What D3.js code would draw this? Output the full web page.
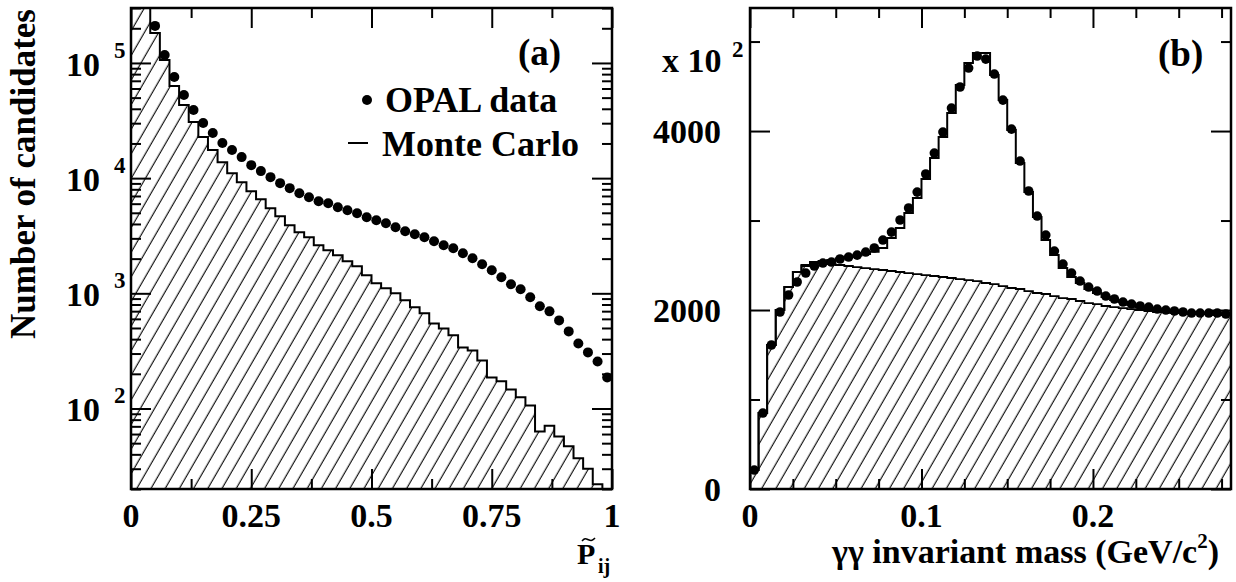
<!DOCTYPE html>
<html>
<head>
<meta charset="utf-8">
<script src="https://cdn.jsdelivr.net/npm/d3@7"></script>
<style>
body { margin: 0; background: #fff; }
text { font-family: "Liberation Serif", "Times New Roman", serif; font-weight: bold; fill: #000; }
</style>
</head>
<body>
<div id="container"></div>
<script>
// SVG Dimensions
var svg_width = 1236
var svg_height = 582

//
// Panel (a): P~ij distribution (log scale), bins of 0.02
var pijBinWidth = 0.02
var pijEdges = [0, 0.02, 0.04, 0.06, 0.08, 0.10, 0.12, 0.14, 0.16, 0.18,
    0.20, 0.22, 0.24, 0.26, 0.28, 0.30, 0.32, 0.34, 0.36, 0.38,
    0.40, 0.42, 0.44, 0.46, 0.48, 0.50, 0.52, 0.54, 0.56, 0.58,
    0.60, 0.62, 0.64, 0.66, 0.68, 0.70, 0.72, 0.74, 0.76, 0.78,
    0.80, 0.82, 0.84, 0.86, 0.88, 0.90, 0.92, 0.94, 0.96, 0.98]
var pijMC = [500000, 350000, 182300, 106200, 63100, 43150, 30690, 22750, 17520, 13770,
    11050, 9230, 7710, 6567, 5483, 4677, 3902, 3389, 3069, 2615,
    2365, 2139, 1897, 1717, 1435, 1222, 1105, 1000, 869, 756,
    670, 548, 496, 432, 339, 319, 261, 186, 172, 146,
    125, 106, 63, 71, 57, 47, 37, 30, 22, 0]
var pijCenters = [0.05, 0.07, 0.09, 0.11, 0.13, 0.15, 0.17, 0.19, 0.21, 0.23,
    0.25, 0.27, 0.29, 0.31, 0.33, 0.35, 0.37, 0.39, 0.41, 0.43,
    0.45, 0.47, 0.49, 0.51, 0.53, 0.55, 0.57, 0.59, 0.61, 0.63,
    0.65, 0.67, 0.69, 0.71, 0.73, 0.75, 0.77, 0.79, 0.81, 0.83,
    0.85, 0.87, 0.89, 0.91, 0.93, 0.95, 0.97, 0.99]
var pijData = [209800, 117400, 75560, 52690, 39020, 30090, 24620, 20150, 17520, 15220,
    12970, 11510, 10200, 9048, 8185, 7405, 6835, 6310, 6062, 5596,
    5268, 4963, 4581, 4313, 4062, 3749, 3461, 3258, 3069, 2833,
    2615, 2462, 2227, 2015, 1787, 1585, 1378, 1198, 1083, 923,
    771, 697, 582, 467, 367, 307, 256, 186]
var pijMajorX = [0, 0.25, 0.5, 0.75, 1]
var pijMinorX = [0.125, 0.375, 0.625, 0.875]
var pijLabelsX = ["0", "0.25", "0.5", "0.75", "1"]
var pijDecades = [2, 3, 4, 5]

//
// Panel (b): gamma-gamma invariant mass, bins of 0.005 GeV (values x 10^2)
var massBinWidth = 0.005
var massEdges = [0, 0.005, 0.010, 0.015, 0.020, 0.025, 0.030, 0.035, 0.040, 0.045,
    0.050, 0.055, 0.060, 0.065, 0.070, 0.075, 0.080, 0.085, 0.090, 0.095,
    0.100, 0.105, 0.110, 0.115, 0.120, 0.125, 0.130, 0.135, 0.140, 0.145,
    0.150, 0.155, 0.160, 0.165, 0.170, 0.175, 0.180, 0.185, 0.190, 0.195,
    0.200, 0.205, 0.210, 0.215, 0.220, 0.225, 0.230, 0.235, 0.240, 0.245,
    0.250, 0.255, 0.260, 0.265, 0.270, 0.275]
var massData = [212, 849, 1609, 1978, 2168, 2313, 2413, 2492, 2525, 2536,
    2570, 2592, 2614, 2648, 2693, 2782, 2871, 3006, 3140, 3318,
    3520, 3754, 3989, 4257, 4492, 4704, 4838, 4804, 4637, 4346,
    4022, 3665, 3330, 3050, 2838, 2659, 2514, 2413, 2324, 2257,
    2212, 2156, 2123, 2089, 2067, 2045, 2033, 2011, 2000, 1989,
    1978, 1966, 1966, 1966, 1966, 1955]
var massMC = [212, 849, 1609, 2000, 2257, 2425, 2503, 2536, 2547, 2559,
    2575, 2592, 2610, 2626, 2650, 2693, 2804, 2916, 3084, 3251,
    3464, 3698, 3933, 4201, 4515, 4760, 4871, 4871, 4626, 4346,
    4011, 3642, 3318, 3039, 2782, 2614, 2469, 2369, 2302, 2235,
    2190, 2145, 2112, 2089, 2056, 2033, 2022, 2000, 1989, 1978,
    1966, 1966, 1955, 1955, 1955, 1955]
var massBkg = [212, 849, 1609, 2000, 2257, 2425, 2492, 2525, 2525, 2514,
    2503, 2492, 2480, 2469, 2458, 2447, 2436, 2425, 2413, 2402,
    2391, 2380, 2369, 2358, 2346, 2335, 2324, 2302, 2290, 2268,
    2246, 2235, 2212, 2190, 2179, 2156, 2134, 2123, 2101, 2078,
    2067, 2045, 2033, 2022, 2011, 2000, 1989, 1978, 1978, 1966,
    1966, 1955, 1955, 1955, 1944, 1944]
var massMajorX = [0, 0.1, 0.2]
var massMinorX = [0.025, 0.05, 0.075, 0.125, 0.15, 0.175, 0.225, 0.25, 0.275]
var massLabelsX = ["0", "0.1", "0.2"]
var massMajorY = [0, 2000, 4000]
var massMinorY = [1000, 3000, 5000]

//
// Creating SVG
var svg = d3.select("#container")
    .append("svg")
    .attr("width", svg_width)
    .attr("height", svg_height)

var defs = svg.append("defs")
defs.append("pattern")
    .attr("id", "hatch")
    .attr("patternUnits", "userSpaceOnUse")
    .attr("width", 12.3)
    .attr("height", 12.3)
    .attr("patternTransform", "rotate(30)")
    .append("line")
    .attr("x1", 6).attr("y1", 0).attr("x2", 6).attr("y2", 12.3)
    .attr("stroke", "#000").attr("stroke-width", 1.1)

// Scales
var xA = d3.scaleLinear().domain([0, 1]).range([131, 612])
var yA = d3.scaleLog().domain([20, 3e5]).range([489, 8])
var xB = d3.scaleLinear().domain([0, 0.2805]).range([750, 1231])
var yB = d3.scaleLinear().domain([0, 5375]).range([489, 8])

function clipFor(id, x, y) {
    defs.append("clipPath").attr("id", id)
        .append("rect")
        .attr("x", x.range()[0]).attr("y", y.range()[1])
        .attr("width", x.range()[1] - x.range()[0])
        .attr("height", y.range()[0] - y.range()[1])
}
clipFor("clipA", xA, yA)
clipFor("clipB", xB, yB)

// ticks on all four sides, pointing inward
function drawTicks(x, y, xMajor, xMinor, yMajor, yMinor) {
    var x0 = x.range()[0], x1 = x.range()[1], y0 = y.range()[0], y1 = y.range()[1]
    var sets = [
        [d3.axisBottom(x), xMajor, 20, `translate(0,${y0})`],
        [d3.axisBottom(x), xMinor, 10, `translate(0,${y0})`],
        [d3.axisTop(x), xMajor, 20, `translate(0,${y1})`],
        [d3.axisTop(x), xMinor, 10, `translate(0,${y1})`],
        [d3.axisLeft(y), yMajor, 20, `translate(${x0},0)`],
        [d3.axisLeft(y), yMinor, 10, `translate(${x0},0)`],
        [d3.axisRight(y), yMajor, 20, `translate(${x1},0)`],
        [d3.axisRight(y), yMinor, 10, `translate(${x1},0)`]
    ]
    sets.forEach(function(s) {
        svg.append("g")
            .attr("transform", s[3])
            .call(s[0].tickValues(s[1]).tickSize(-s[2]).tickFormat(""))
            .call(g => g.select(".domain").remove())
            .selectAll("line")
            .attr("stroke", "#000")
            .attr("stroke-width", 2)
    })
    svg.append("rect")
        .attr("x", x0).attr("y", y1)
        .attr("width", x1 - x0).attr("height", y0 - y1)
        .attr("fill", "none").attr("stroke", "#000").attr("stroke-width", 2.5)
}

// ---------------- Panel (a) ----------------
var gA = svg.append("g").attr("clip-path", "url(#clipA)")
var histA = pijEdges.map((e, i) => [e, Math.max(pijMC[i], 20)])
histA.push([1, 20])

gA.append("path")
    .datum(histA)
    .attr("d", d3.area().curve(d3.curveStepAfter)
        .x(d => xA(d[0])).y0(yA(20)).y1(d => yA(d[1])))
    .attr("fill", "url(#hatch)")
gA.append("path")
    .datum(histA)
    .attr("d", d3.line().curve(d3.curveStepAfter)
        .x(d => xA(d[0])).y(d => yA(d[1])))
    .attr("fill", "none").attr("stroke", "#000").attr("stroke-width", 2)

gA.selectAll(".dotA")
    .data(pijCenters)
    .enter()
    .append("circle")
    .attr("cx", d => xA(d))
    .attr("cy", (d, i) => yA(pijData[i]))
    .attr("r", 5)
    .attr("fill", "#000")

var logMinor = []
pijDecades.concat([1]).forEach(function(e) {
    for (var m = 2; m <= 9; m++) {
        var v = m * Math.pow(10, e)
        if (v >= 20 && v <= 3e5) logMinor.push(v)
    }
})
drawTicks(xA, yA, pijMajorX, pijMinorX, pijDecades.map(e => Math.pow(10, e)), logMinor)

// y labels 10^n
pijDecades.forEach(function(e) {
    var yy = yA(Math.pow(10, e))
    svg.append("text").attr("x", 100).attr("y", yy + 13)
        .attr("text-anchor", "end").style("font-size", "34px").text("10")
    svg.append("text").attr("x", 114).attr("y", yy - 5)
        .style("font-size", "23px").text(e)
})
// x labels
svg.selectAll(".labA")
    .data(pijMajorX)
    .enter()
    .append("text")
    .attr("x", d => xA(d)).attr("y", 527)
    .attr("text-anchor", "middle")
    .style("font-size", "34px")
    .text((d, i) => pijLabelsX[i])

// x title P~ij (tilde drawn as a small curve above the P)
svg.append("text").attr("x", 577).attr("y", 564).style("font-size", "30px").text("P")
svg.append("path")
    .datum([[582, 541], [585, 538], [588.5, 540], [592, 541], [595, 538]])
    .attr("d", d3.line().curve(d3.curveBasis))
    .attr("fill", "none").attr("stroke", "#000").attr("stroke-width", 1.6)
svg.append("text").attr("x", 598).attr("y", 573).style("font-size", "20px").text("ij")

// y title
svg.append("text")
    .attr("transform", "translate(35,174) rotate(-90)")
    .attr("text-anchor", "middle")
    .style("font-size", "35px")
    .text("Number of candidates")

// legend (a)
svg.append("text").attr("x", 518).attr("y", 65).style("font-size", "37px").text("(a)")
svg.append("circle").attr("cx", 367).attr("cy", 100).attr("r", 5).attr("fill", "#000")
svg.append("text").attr("x", 385).attr("y", 112).style("font-size", "36px").text("OPAL data")
svg.append("line").attr("x1", 348).attr("x2", 368).attr("y1", 143).attr("y2", 143)
    .attr("stroke", "#000").attr("stroke-width", 2)
svg.append("text").attr("x", 382).attr("y", 156).style("font-size", "36px").text("Monte Carlo")

// ---------------- Panel (b) ----------------
var gB = svg.append("g").attr("clip-path", "url(#clipB)")
var bkgB = massEdges.map((e, i) => [e, massBkg[i]])
bkgB.push([0.28, massBkg[massBkg.length - 1]])
var mcB = massEdges.map((e, i) => [e, massMC[i]])
mcB.push([0.28, massMC[massMC.length - 1]])
bkgB.unshift([0, 0])
mcB.unshift([0, 0])

gB.append("path")
    .datum(bkgB)
    .attr("d", d3.area().curve(d3.curveStepAfter)
        .x(d => xB(d[0])).y0(yB(0)).y1(d => yB(d[1])))
    .attr("fill", "url(#hatch)")
gB.append("path")
    .datum(bkgB)
    .attr("d", d3.line().curve(d3.curveStepAfter)
        .x(d => xB(d[0])).y(d => yB(d[1])))
    .attr("fill", "none").attr("stroke", "#000").attr("stroke-width", 1.8)
gB.append("path")
    .datum(mcB)
    .attr("d", d3.line().curve(d3.curveStepAfter)
        .x(d => xB(d[0])).y(d => yB(d[1])))
    .attr("fill", "none").attr("stroke", "#000").attr("stroke-width", 2)

gB.selectAll(".dotB")
    .data(massEdges)
    .enter()
    .append("circle")
    .attr("cx", d => xB(d + massBinWidth / 2))
    .attr("cy", (d, i) => yB(massData[i]))
    .attr("r", 4.8)
    .attr("fill", "#000")

drawTicks(xB, yB, massMajorX, massMinorX, massMajorY, massMinorY)

svg.selectAll(".labBy")
    .data(massMajorY)
    .enter()
    .append("text")
    .attr("x", 721).attr("y", d => yB(d) + 12)
    .attr("text-anchor", "end")
    .style("font-size", "34px")
    .text(d => d)
svg.selectAll(".labBx")
    .data(massMajorX)
    .enter()
    .append("text")
    .attr("x", d => xB(d)).attr("y", 527)
    .attr("text-anchor", "middle")
    .style("font-size", "34px")
    .text((d, i) => massLabelsX[i])

svg.append("text").attr("x", 662).attr("y", 72).style("font-size", "34px").text("x 10")
svg.append("text").attr("x", 732).attr("y", 57).style("font-size", "23px").text("2")

var titleB = svg.append("text").attr("x", 832).attr("y", 563).style("font-size", "34px")
titleB.append("tspan").text("\u03b3\u03b3 invariant mass (GeV/c")
titleB.append("tspan").attr("dy", -15).style("font-size", "21px").text("2")
titleB.append("tspan").attr("dy", 15).text(")")

svg.append("text").attr("x", 1158).attr("y", 66).style("font-size", "37px").text("(b)")
</script>
</body>
</html>
